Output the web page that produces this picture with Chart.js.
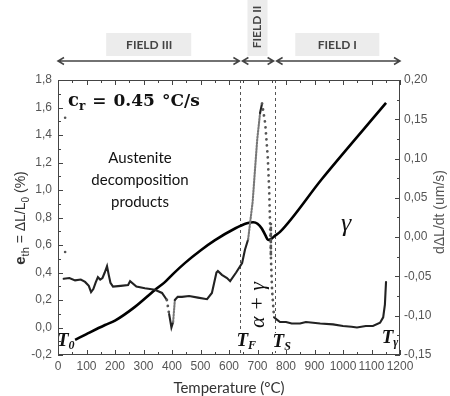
<!DOCTYPE html>
<html>
<head>
<meta charset="utf-8">
<script src="https://cdn.jsdelivr.net/npm/chart.js@4"></script>
<style>
  html, body { margin: 0; padding: 0; background: #fff; }
  #wrap { width: 450px; height: 396px; position: relative; }
</style>
</head>
<body>
<div id="wrap"><canvas id="chart"></canvas></div>
<script>
"use strict";
// thermal strain e_th (%) vs temperature
const dilTemp = [60, 100, 165, 200, 270, 340, 375, 404, 446, 500, 551, 621, 663, 685, 700, 715, 728, 737, 748, 760, 779, 926, 1151];
const dilVal = [-0.09, -0.048, 0.018, 0.05, 0.15, 0.273, 0.33, 0.39, 0.47, 0.56, 0.635, 0.72, 0.758, 0.765, 0.755, 0.72, 0.67, 0.636, 0.645, 0.665, 0.695, 1.08, 1.633];

// dL/dt (um/s) vs temperature
const rateTemp = [20, 40, 60, 80, 95, 108, 116, 124, 132, 140, 148, 156, 164, 172, 178, 184, 193, 220, 246, 253, 275, 305, 340, 365, 382, 390, 398, 404, 410, 420, 435, 460, 491, 523, 540, 548, 556, 561, 575, 593, 604, 625, 646, 656, 667, 674, 683, 691, 699, 709, 716, 727, 736, 741, 744, 747, 751, 758, 768, 779, 800, 820, 849, 870, 895, 920, 965, 1000, 1030, 1049, 1080, 1105, 1130, 1141, 1147, 1149, 1151];
const rateVal = [-0.053, -0.052, -0.055, -0.054, -0.057, -0.062, -0.070, -0.066, -0.058, -0.051, -0.054, -0.052, -0.045, -0.037, -0.048, -0.058, -0.063, -0.062, -0.061, -0.056, -0.063, -0.065, -0.067, -0.071, -0.080, -0.098, -0.115, -0.108, -0.080, -0.076, -0.076, -0.075, -0.077, -0.079, -0.071, -0.058, -0.045, -0.043, -0.048, -0.052, -0.056, -0.045, -0.033, -0.016, -0.003, 0.018, 0.045, 0.085, 0.124, 0.158, 0.170, 0.145, 0.102, 0.06, 0.018, -0.025, -0.067, -0.102, -0.105, -0.108, -0.108, -0.110, -0.110, -0.108, -0.109, -0.110, -0.111, -0.113, -0.114, -0.115, -0.113, -0.113, -0.109, -0.102, -0.086, -0.071, -0.057];
const strayTemp = [25, 25];
const strayVal = [0.152, -0.019];

const fieldNames = ['FIELD III', 'FIELD II', 'FIELD I'];
const fieldBounds = [0, 640, 760, 1200];
const markTemps = [0, 640, 760, 1150];
const markSubs = ['0', 'F', 'S', 'γ'];

const toPts = (xs, ys) => xs.map((x, i) => ({ x: x, y: ys[i] }));
const comma = (v, d) => (Math.abs(v) < 1e-9 ? 0 : v).toFixed(d).replace('.', ',');

function drawRuns(ctx, runs, x, y, align) {
  ctx.textAlign = 'left';
  let w = 0;
  runs.forEach(r => { ctx.font = r.f; w += ctx.measureText(r.t).width + (r.gap || 0); });
  let cx = align === 'center' ? x - w / 2 : x;
  runs.forEach(r => {
    ctx.font = r.f;
    ctx.fillText(r.t, cx, y + (r.dy || 0));
    cx += ctx.measureText(r.t).width + (r.gap || 0);
  });
}

function steep(c) {
  return Math.abs(c.p1.y - c.p0.y) > 14;
}
function falling(c) {
  return c.p1.parsed.y < c.p0.parsed.y;
}

const decor = {
  id: 'decor',
  beforeDatasetsDraw(chart) {
    const { ctx, chartArea: a, scales: { x } } = chart;
    ctx.save();
    // transition temperatures
    ctx.strokeStyle = '#555';
    ctx.lineWidth = 1;
    ctx.setLineDash([3, 3]);
    [fieldBounds[1], fieldBounds[2]].forEach(t => {
      const px = Math.round(x.getPixelForValue(t)) + 0.5;
      ctx.beginPath();
      ctx.moveTo(px, a.top);
      ctx.lineTo(px, a.bottom);
      ctx.stroke();
    });
    ctx.setLineDash([]);

    // T labels
    ctx.fillStyle = '#111';
    ctx.textBaseline = 'alphabetic';
    const tf = 'italic bold 19px "Liberation Serif"';
    const sf = 'italic bold 12px "Liberation Serif"';
    const offs = [-1, -4, -2, -4];
    const base = [346, 346, 347, 343];
    markTemps.forEach((t, i) => {
      const px = x.getPixelForValue(t) + offs[i];
      if (i === 1 || i === 2) {
        ctx.fillStyle = '#fff';
        ctx.fillRect(px, base[i] - 14, 16, 18);
        ctx.fillStyle = '#111';
      }
      drawRuns(ctx, [{ t: 'T', f: tf }, { t: markSubs[i], f: sf, dy: 3 }], px, base[i], 'left');
    });

    // alpha + gamma
    ctx.save();
    ctx.translate(258, 305);
    ctx.rotate(-Math.PI / 2);
    ctx.font = 'italic 22px "Liberation Serif"';
    ctx.textAlign = 'center';
    ctx.textBaseline = 'middle';
    ctx.fillText('α + γ', 0, 0);
    ctx.restore();

    ctx.font = 'italic 26px "Liberation Serif"';
    ctx.textAlign = 'center';
    ctx.textBaseline = 'middle';
    ctx.fillText('γ', 346, 224);

    // cooling rate
    ctx.textBaseline = 'alphabetic';
    drawRuns(ctx, [
      { t: 'c', f: 'bold 18px "DejaVu Serif"' },
      { t: 'r', f: 'bold 12px "DejaVu Serif"', dy: 4, gap: 7 },
      { t: '=', f: 'bold 17px "DejaVu Serif"', gap: 7 },
      { t: '0.45', f: 'bold 17px "DejaVu Serif"', gap: 7 },
      { t: '°C/s', f: 'bold 17px "DejaVu Serif"' }
    ], 68, 106, 'left');

    ctx.font = '15px Lato';
    ctx.textAlign = 'center';
    ctx.fillText('Austenite', 140, 163);
    ctx.fillText('decomposition', 140, 185);
    ctx.fillText('products', 140, 207);
    ctx.restore();
  },
  afterDraw(chart) {
    const { ctx, chartArea: a, scales: { x, y, y2 } } = chart;
    ctx.save();
    ctx.strokeStyle = '#444';
    ctx.lineWidth = 1;
    ctx.strokeRect(a.left + 0.5, a.top + 0.5, a.right - a.left - 1, a.bottom - a.top - 1);
    ctx.beginPath();
    for (let t = 0; t <= 1200; t += 50) {
      const px = Math.round(x.getPixelForValue(t)) + 0.5;
      const len = t % 100 === 0 ? 5 : 3;
      ctx.moveTo(px, a.bottom); ctx.lineTo(px, a.bottom - len);
      ctx.moveTo(px, a.top); ctx.lineTo(px, a.top + len);
    }
    for (let i = 0; i <= 20; i++) {
      const py = Math.round(y.getPixelForValue(-0.2 + i * 0.1)) + 0.5;
      const len = i % 2 === 0 ? 5 : 3;
      ctx.moveTo(a.left, py); ctx.lineTo(a.left + len, py);
    }
    for (let i = 0; i <= 14; i++) {
      const py = Math.round(y2.getPixelForValue(-0.15 + i * 0.025)) + 0.5;
      const len = i % 2 === 0 ? 5 : 3;
      ctx.moveTo(a.right, py); ctx.lineTo(a.right - len, py);
    }
    ctx.stroke();

    // axis titles
    ctx.fillStyle = '#333';
    ctx.textAlign = 'center';
    ctx.textBaseline = 'middle';
    ctx.font = '15px Lato';
    ctx.fillText('Temperature (°C)', (a.left + a.right) / 2, 388);

    ctx.save();
    ctx.translate(20, 218);
    ctx.rotate(-Math.PI / 2);
    ctx.textBaseline = 'alphabetic';
    drawRuns(ctx, [
      { t: 'e', f: 'bold 15px "Liberation Sans"' },
      { t: 'th', f: '11px "Liberation Sans"', dy: 4 },
      { t: ' = ΔL/L', f: '14px "Liberation Sans"' },
      { t: '0', f: '10px "Liberation Sans"', dy: 4 },
      { t: ' (%)', f: '14px "Liberation Sans"' }
    ], 0, 5, 'center');
    ctx.restore();

    ctx.save();
    ctx.translate(440, 212);
    ctx.rotate(-Math.PI / 2);
    ctx.fillStyle = '#555';
    ctx.font = '14px "Liberation Sans"';
    ctx.textAlign = 'center';
    ctx.textBaseline = 'middle';
    ctx.fillText('dΔL/dt (um/s)', 0, 0);
    ctx.restore();

    // field header
    const mids = [0, 1, 2].map(i => x.getPixelForValue((fieldBounds[i] + fieldBounds[i + 1]) / 2));
    ctx.fillStyle = '#ececec';
    ctx.fillRect(mids[0] - 43, 33, 85, 23);
    ctx.fillRect(mids[1] - 10, 0, 20, 56);
    ctx.fillRect(mids[2] - 42, 33, 84, 23);
    ctx.fillStyle = '#444';
    ctx.font = 'bold 12px Lato';
    ctx.textAlign = 'center';
    ctx.fillText(fieldNames[0], mids[0], 45);
    ctx.fillText(fieldNames[2], mids[2], 45);
    ctx.save();
    ctx.translate(mids[1], 27);
    ctx.rotate(-Math.PI / 2);
    ctx.fillText(fieldNames[1], 0, 0);
    ctx.restore();

    ctx.strokeStyle = '#444';
    ctx.lineWidth = 1.5;
    const ay = 61;
    for (let i = 0; i < 3; i++) {
      const x0 = x.getPixelForValue(fieldBounds[i]) + (i === 0 ? 0 : 2);
      const x1 = x.getPixelForValue(fieldBounds[i + 1]) - (i === 2 ? 0 : 1);
      ctx.beginPath();
      ctx.moveTo(x0, ay); ctx.lineTo(x1, ay);
      ctx.moveTo(x0 + 6, ay - 3.5); ctx.lineTo(x0, ay); ctx.lineTo(x0 + 6, ay + 3.5);
      ctx.moveTo(x1 - 6, ay - 3.5); ctx.lineTo(x1, ay); ctx.lineTo(x1 - 6, ay + 3.5);
      ctx.stroke();
    }
    ctx.restore();
  }
};

const tickFont = { family: 'Liberation Sans', size: 12 };

new Chart(document.getElementById('chart'), {
  type: 'line',
  data: {
    datasets: [
      {
        data: toPts(rateTemp, rateVal),
        yAxisID: 'y2',
        borderColor: '#222',
        borderWidth: 2.1,
        pointRadius: 0,
        tension: 0,
        borderCapStyle: 'round',
        segment: {
          borderDash: c => steep(c) ? (falling(c) ? [0.01, 6] : [1.5, 1.5]) : undefined,
          borderColor: c => steep(c) ? (falling(c) ? '#555' : '#777') : undefined,
          borderWidth: c => steep(c) && falling(c) ? 2.8 : undefined
        }
      },
      {
        data: toPts(strayTemp, strayVal),
        yAxisID: 'y2',
        showLine: false,
        pointRadius: 1.3,
        pointBorderWidth: 0,
        pointBackgroundColor: '#555'
      },
      {
        data: toPts(dilTemp, dilVal),
        yAxisID: 'y',
        borderColor: '#000',
        borderWidth: 2.6,
        pointRadius: 0,
        cubicInterpolationMode: 'monotone'
      }
    ]
  },
  options: {
    responsive: true,
    maintainAspectRatio: false,
    animation: false,
    layout: { padding: { top: 80 } },
    plugins: { legend: { display: false }, tooltip: { enabled: false } },
    scales: {
      x: {
        type: 'linear', min: 0, max: 1200,
        ticks: { stepSize: 100, color: '#555', font: tickFont, padding: 4, maxRotation: 0, autoSkip: false, callback: v => String(v) },
        grid: { display: false, drawTicks: false },
        border: { display: false },
        afterFit: s => { s.height = 41; }
      },
      y: {
        position: 'left', min: -0.2, max: 1.8,
        ticks: { stepSize: 0.2, color: '#555', font: tickFont, padding: 6, callback: v => comma(v, 1) },
        grid: { display: false, drawTicks: false },
        border: { display: false },
        afterFit: s => { s.width = 58; }
      },
      y2: {
        position: 'right', min: -0.15, max: 0.2,
        ticks: { stepSize: 0.05, color: '#555', font: tickFont, padding: 4, callback: v => comma(v, 2) },
        grid: { display: false, drawTicks: false },
        border: { display: false },
        afterFit: s => { s.width = 50; }
      }
    }
  },
  plugins: [decor]
});
</script>
</body>
</html>
